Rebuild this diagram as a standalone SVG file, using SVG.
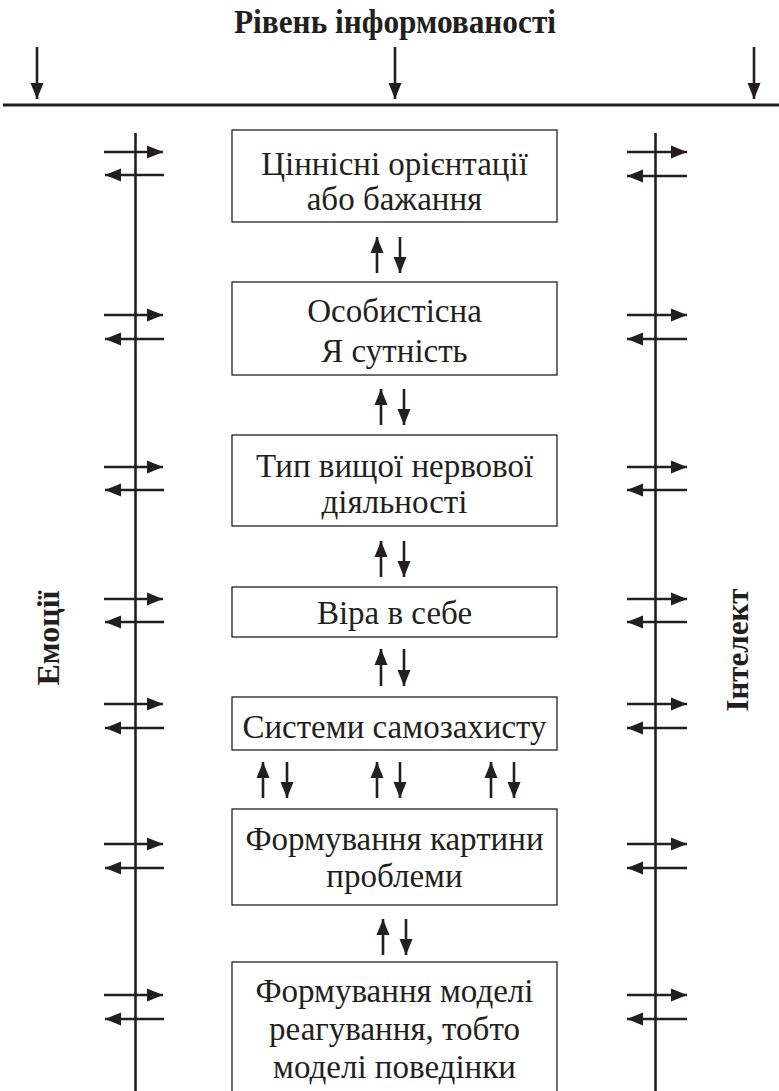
<svg xmlns="http://www.w3.org/2000/svg" width="779" height="1091" viewBox="0 0 779 1091">
<style>
.ln{stroke:#231f20;stroke-width:2.6;fill:none}
.box{fill:#fff;stroke:#231f20;stroke-width:1.3}
.t{font-family:Liberation Serif, Times New Roman, serif;font-size:33px;fill:#231f20;text-anchor:middle}
.b{font-family:Liberation Serif, Times New Roman, serif;font-weight:bold;fill:#231f20;text-anchor:middle}
</style>
<defs>
<marker id="ah" markerUnits="userSpaceOnUse" markerWidth="17" markerHeight="14" refX="16" refY="7" orient="auto">
<path d="M0,0.5 L16,7 L0,13.5 z" fill="#231f20"/>
</marker>
<marker id="ahs" markerUnits="userSpaceOnUse" markerWidth="17" markerHeight="14" refX="16" refY="7" orient="auto">
<path d="M0,0.5 L16,7 L0,13.5 z" fill="#231f20"/>
</marker>
</defs>

<text class="b" x="395" y="33" font-size="33" textLength="322" lengthAdjust="spacingAndGlyphs" font-family="Liberation Serif, serif">Рівень інформованості</text>
<text class="b" transform="translate(59,638) rotate(-90)" font-size="32" font-family="Liberation Serif, serif">Емоції</text>
<text class="b" transform="translate(748,650) rotate(-90)" font-size="31" font-family="Liberation Serif, serif">Інтелект</text>

<g id="connectors">
<line class="ln" x1="3" y1="105" x2="779" y2="105" style="stroke-width:3"/>
<line class="ln" x1="37" y1="47" x2="37" y2="99" marker-end="url(#ah)"/>
<line class="ln" x1="395" y1="47" x2="395" y2="99" marker-end="url(#ah)"/>
<line class="ln" x1="754" y1="47" x2="754" y2="99" marker-end="url(#ah)"/>

<line class="ln" x1="135.5" y1="133" x2="135.5" y2="1091"/>
<line class="ln" x1="655.5" y1="133" x2="655.5" y2="1091"/>

<g id="side-left">
<line class="ln" x1="104" y1="152" x2="163" y2="152" marker-end="url(#ah)"/>
<line class="ln" x1="164" y1="175" x2="105" y2="175" marker-end="url(#ah)"/>
<line class="ln" x1="104" y1="315" x2="163" y2="315" marker-end="url(#ah)"/>
<line class="ln" x1="164" y1="339" x2="105" y2="339" marker-end="url(#ah)"/>
<line class="ln" x1="104" y1="467" x2="163" y2="467" marker-end="url(#ah)"/>
<line class="ln" x1="164" y1="490" x2="105" y2="490" marker-end="url(#ah)"/>
<line class="ln" x1="104" y1="599" x2="163" y2="599" marker-end="url(#ah)"/>
<line class="ln" x1="164" y1="622" x2="105" y2="622" marker-end="url(#ah)"/>
<line class="ln" x1="104" y1="704" x2="163" y2="704" marker-end="url(#ah)"/>
<line class="ln" x1="164" y1="728" x2="105" y2="728" marker-end="url(#ah)"/>
<line class="ln" x1="104" y1="844" x2="163" y2="844" marker-end="url(#ah)"/>
<line class="ln" x1="164" y1="868" x2="105" y2="868" marker-end="url(#ah)"/>
<line class="ln" x1="104" y1="995" x2="163" y2="995" marker-end="url(#ah)"/>
<line class="ln" x1="164" y1="1019" x2="105" y2="1019" marker-end="url(#ah)"/>
</g>
<g id="side-right">
<line class="ln" x1="627" y1="152" x2="687" y2="152" marker-end="url(#ah)"/>
<line class="ln" x1="687" y1="176" x2="627" y2="176" marker-end="url(#ah)"/>
<line class="ln" x1="627" y1="315" x2="687" y2="315" marker-end="url(#ah)"/>
<line class="ln" x1="687" y1="339" x2="627" y2="339" marker-end="url(#ah)"/>
<line class="ln" x1="627" y1="467" x2="687" y2="467" marker-end="url(#ah)"/>
<line class="ln" x1="687" y1="490" x2="627" y2="490" marker-end="url(#ah)"/>
<line class="ln" x1="627" y1="599" x2="687" y2="599" marker-end="url(#ah)"/>
<line class="ln" x1="687" y1="622" x2="627" y2="622" marker-end="url(#ah)"/>
<line class="ln" x1="627" y1="704" x2="687" y2="704" marker-end="url(#ah)"/>
<line class="ln" x1="687" y1="728" x2="627" y2="728" marker-end="url(#ah)"/>
<line class="ln" x1="627" y1="844" x2="687" y2="844" marker-end="url(#ah)"/>
<line class="ln" x1="687" y1="868" x2="627" y2="868" marker-end="url(#ah)"/>
<line class="ln" x1="627" y1="995" x2="687" y2="995" marker-end="url(#ah)"/>
<line class="ln" x1="687" y1="1019" x2="627" y2="1019" marker-end="url(#ah)"/>
</g>
<g id="vertical-pairs">
<line class="ln" x1="377" y1="273" x2="377" y2="237" marker-end="url(#ahs)"/>
<line class="ln" x1="400" y1="237" x2="400" y2="273" marker-end="url(#ahs)"/>
<line class="ln" x1="381" y1="425" x2="381" y2="389" marker-end="url(#ahs)"/>
<line class="ln" x1="404" y1="389" x2="404" y2="425" marker-end="url(#ahs)"/>
<line class="ln" x1="381" y1="577" x2="381" y2="541" marker-end="url(#ahs)"/>
<line class="ln" x1="404" y1="541" x2="404" y2="577" marker-end="url(#ahs)"/>
<line class="ln" x1="381" y1="686" x2="381" y2="649" marker-end="url(#ahs)"/>
<line class="ln" x1="404" y1="649" x2="404" y2="686" marker-end="url(#ahs)"/>
<line class="ln" x1="263" y1="798" x2="263" y2="762" marker-end="url(#ahs)"/>
<line class="ln" x1="287" y1="762" x2="287" y2="798" marker-end="url(#ahs)"/>
<line class="ln" x1="377" y1="798" x2="377" y2="762" marker-end="url(#ahs)"/>
<line class="ln" x1="400" y1="762" x2="400" y2="798" marker-end="url(#ahs)"/>
<line class="ln" x1="491" y1="798" x2="491" y2="762" marker-end="url(#ahs)"/>
<line class="ln" x1="514" y1="762" x2="514" y2="798" marker-end="url(#ahs)"/>
<line class="ln" x1="383" y1="955" x2="383" y2="919" marker-end="url(#ahs)"/>
<line class="ln" x1="406" y1="919" x2="406" y2="955" marker-end="url(#ahs)"/>
</g>
</g>

<g id="n1">
<rect class="box" x="232" y="130" width="325" height="92"/>
<text class="t" x="394.5" y="175">Ціннісні орієнтації</text>
<text class="t" x="394.5" y="210">або бажання</text>
</g>
<g id="n2">
<rect class="box" x="232" y="282" width="325" height="93"/>
<text class="t" x="394.5" y="322">Особистісна</text>
<text class="t" x="394.5" y="362">Я сутність</text>
</g>
<g id="n3">
<rect class="box" x="232" y="435" width="325" height="91"/>
<text class="t" x="394.5" y="477">Тип вищої нервової</text>
<text class="t" x="394.5" y="513">діяльності</text>
</g>
<g id="n4">
<rect class="box" x="232" y="587" width="325" height="50"/>
<text class="t" x="394.5" y="624">Віра в себе</text>
</g>
<g id="n5">
<rect class="box" x="232" y="697" width="325" height="53"/>
<text class="t" x="394.5" y="738">Системи самозахисту</text>
</g>
<g id="n6">
<rect class="box" x="232" y="809" width="325" height="96"/>
<text class="t" x="394.5" y="850">Формування картини</text>
<text class="t" x="394.5" y="887">проблеми</text>
</g>
<g id="n7">
<rect class="box" x="232" y="962" width="325" height="140"/>
<text class="t" x="394.5" y="1002">Формування моделі</text>
<text class="t" x="394.5" y="1040">реагування, тобто</text>
<text class="t" x="394.5" y="1078">моделі поведінки</text>
</g>
</svg>
